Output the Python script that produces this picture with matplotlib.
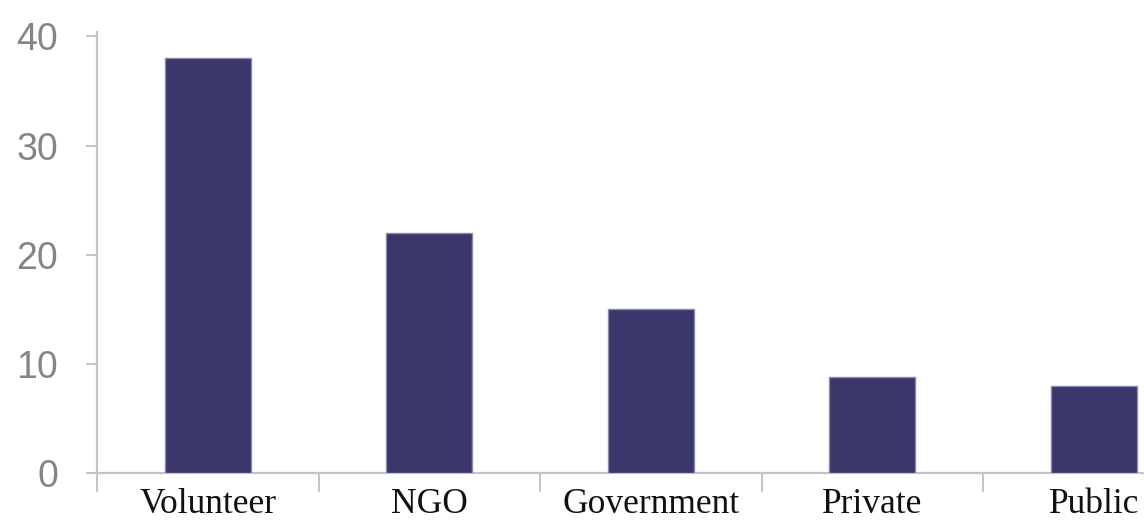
import matplotlib
matplotlib.use("Agg")
import matplotlib.pyplot as plt
import numpy as np

categories = ["Volunteer", "NGO", "Government", "Private", "Public"]
values = [38, 22, 15, 8.8, 8]
yticks = [0, 10, 20, 30, 40]

fig = plt.figure(figsize=(11.44, 5.24), dpi=100)
ax = fig.add_axes([97/1144, 1 - 473/524, 5*221.5/1144, (473-32)/524])

x = np.arange(len(categories))
ax.bar(x, values, width=0.39, color="#38366b", edgecolor="#8a89aa", linewidth=1.0, zorder=3)

ax.set_xlim(-0.5, len(categories) - 0.5)
ax.set_ylim(0, 40.4)
ax.set_yticks(yticks)
ax.set_yticklabels([str(t) for t in yticks], family="Liberation Sans", fontsize=27, color="#858585")
ax.set_xticks(x)
ax.set_xticklabels(categories, family="Liberation Serif", fontsize=25.5, color="#111111")
ax.set_xticks(np.arange(len(categories)) - 0.5, minor=True)

for s in ["top", "right"]:
    ax.spines[s].set_visible(False)
for s in ["left", "bottom"]:
    ax.spines[s].set_color("#c4c4c4")
    ax.spines[s].set_linewidth(1.6)

ax.tick_params(axis="y", which="major", length=8, width=1.4, color="#c4c4c4", pad=20)
ax.tick_params(axis="x", which="major", length=0, pad=11)
ax.tick_params(axis="x", which="minor", length=14, width=1.4, color="#c4c4c4")

fig.savefig("out.png", dpi=100)
